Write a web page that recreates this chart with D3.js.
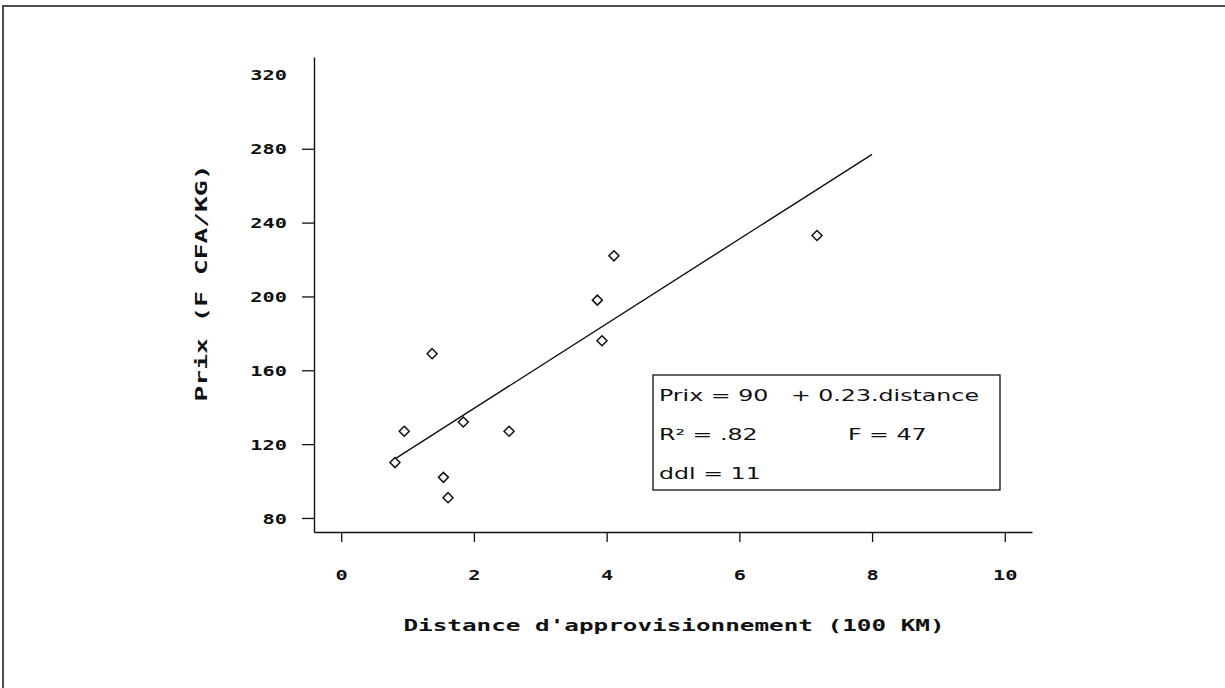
<!DOCTYPE html>
<html>
<head>
<meta charset="utf-8">
<script src="https://cdn.jsdelivr.net/npm/d3@7"></script>
<style>
  body { margin: 0; background: #fff; }
  svg { display: block; }
</style>
</head>
<body>
<div id="chart"></div>
<script>
// points (distance in 100 km, price in F CFA/kg)
var distance = [0.81, 0.95, 1.37, 1.54, 1.61, 1.84, 2.53, 3.86, 3.93, 4.11, 7.17];
var prix     = [110,  127,  169,  102,  91,   132,  127,  198,  176,  222,  233];

// ends of the fitted line as drawn
var lineX = [0.81, 8.0];
var lineY = [112, 277];

var xTicks = [0, 2, 4, 6, 8, 10];
var yTicks = [80, 120, 160, 200, 240, 280, 320];

var statLines = ["Prix = 90   + 0.23.distance", "R\u00B2 = .82            F = 47", "ddl = 11"];

var W = 1225, H = 688;
var mono = "'DejaVu Sans Mono', monospace";

var svg = d3.select("#chart").append("svg")
  .attr("width", W)
  .attr("height", H);

// outer frame of the page
svg.append("rect")
  .attr("x", 3).attr("y", 6)
  .attr("width", W + 10).attr("height", H + 10)
  .style("fill", "none")
  .style("stroke", "#222")
  .style("stroke-width", 1.6);

var x = d3.scaleLinear().domain([-0.41, 10.41]).range([314, 1032]);
var y = d3.scaleLinear().domain([72.4, 329.7]).range([532, 57]);

// x axis
var gx = svg.append("g")
  .attr("transform", "translate(0,532)")
  .call(d3.axisBottom(x).tickValues(xTicks).tickSize(10).tickSizeOuter(0).tickFormat(d3.format("d")));
gx.select(".domain").style("stroke", "#111").style("stroke-width", 1.4);
gx.selectAll(".tick line").style("stroke", "#111").style("stroke-width", 1.3);
gx.selectAll(".tick text")
  .attr("y", 0).attr("dy", 0)
  .attr("transform", "translate(0,48) scale(1.45,1)")
  .style("font-family", mono)
  .style("font-weight", "bold")
  .style("font-size", "14px")
  .style("fill", "#111");

// y axis
var gy = svg.append("g")
  .attr("transform", "translate(314,0)")
  .call(d3.axisLeft(y).tickValues(yTicks).tickSize(12).tickSizeOuter(0).tickFormat(d3.format("d")));
gy.select(".domain").style("stroke", "#111").style("stroke-width", 1.4);
gy.selectAll(".tick line")
  .style("stroke", "#111").style("stroke-width", 1.3)
  .style("opacity", function(d) { return d === 320 ? 0 : 1; });
gy.selectAll(".tick text")
  .attr("x", 0).attr("dy", "0.36em")
  .attr("transform", "translate(-27,0) scale(1.45,1)")
  .style("font-family", mono)
  .style("font-weight", "bold")
  .style("font-size", "14px")
  .style("fill", "#111");

// axis titles
svg.append("text")
  .attr("transform", "translate(674,631) scale(1.62,1)")
  .attr("text-anchor", "middle")
  .style("font-family", mono)
  .style("font-size", "15px")
  .style("font-weight", "bold")
  .style("fill", "#111")
  .text("Distance d'approvisionnement (100 KM)");

svg.append("text")
  .attr("transform", "translate(207,283) rotate(-90) scale(1.75,1)")
  .attr("text-anchor", "middle")
  .style("font-family", mono)
  .style("font-size", "15px")
  .style("font-weight", "bold")
  .style("fill", "#111")
  .text("Prix (F CFA/KG)");

// fitted line
svg.append("path")
  .datum(d3.zip(lineX, lineY))
  .attr("d", d3.line()
    .x(function(d) { return x(d[0]); })
    .y(function(d) { return y(d[1]); }))
  .style("fill", "none")
  .style("stroke", "#111")
  .style("stroke-width", 1.4);

// diamond markers
var pts = d3.zip(distance, prix);
svg.append("g").selectAll("path")
  .data(pts)
  .enter().append("path")
    .attr("transform", function(d) { return "translate(" + x(d[0]) + "," + y(d[1]) + ")"; })
    .attr("d", "M0,-5L5,0L0,5L-5,0Z")
    .style("fill", "#fff")
    .style("stroke", "#111")
    .style("stroke-width", 1.5);

// statistics box
svg.append("rect")
  .attr("x", 653).attr("y", 375)
  .attr("width", 347).attr("height", 115)
  .style("fill", "#fff")
  .style("stroke", "#111")
  .style("stroke-width", 1.3);

svg.append("g").selectAll("text")
  .data(statLines)
  .enter().append("text")
    .attr("transform", function(d, i) { return "translate(659," + (401 + i * 39) + ") scale(1.58,1)"; })
    .attr("xml:space", "preserve")
    .style("white-space", "pre")
    .style("font-family", "'DejaVu Sans', sans-serif")
    .style("font-size", "15px")
    .style("fill", "#111")
    .text(function(d) { return d; });
</script>
</body>
</html>
